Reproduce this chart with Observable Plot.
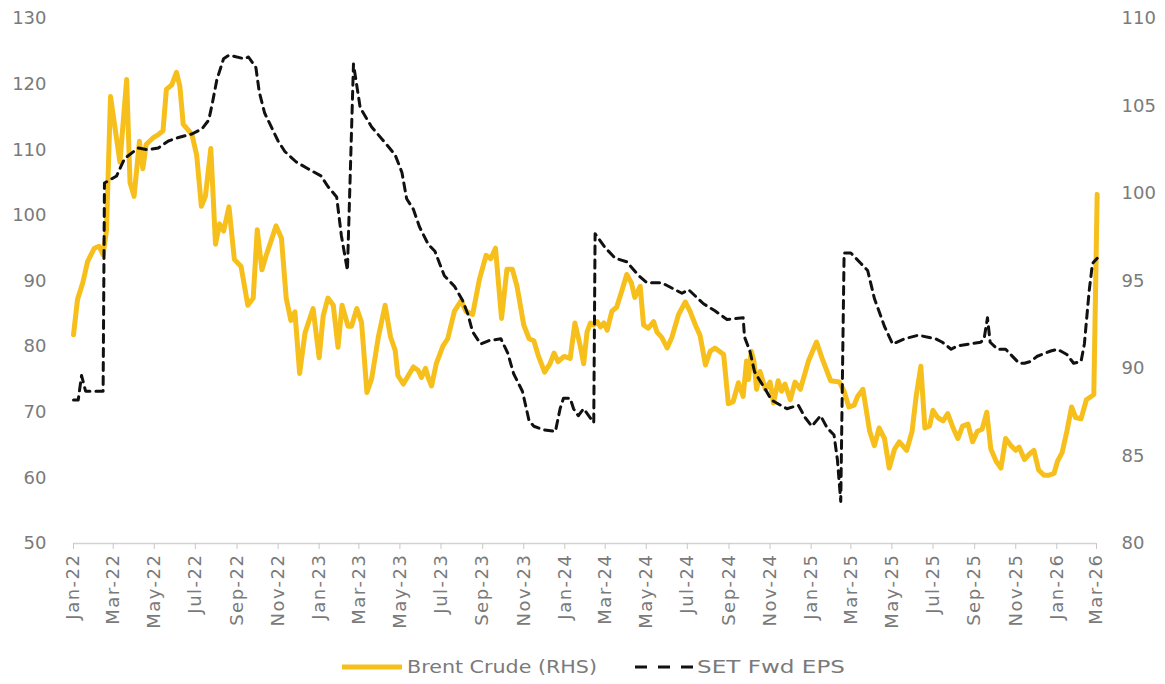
<!DOCTYPE html>
<html><head><meta charset="utf-8">
<script src="https://cdn.jsdelivr.net/npm/d3@7"></script>
<script src="https://cdn.jsdelivr.net/npm/@observablehq/plot@0.6"></script>
<style>
html,body{margin:0;padding:0;background:#fff;}
#chart{position:relative;width:1165px;height:684px;overflow:hidden;background:#fff;}
svg{display:block;}
</style></head><body><div id="chart"></div>
<script>
const brentDates = ["2022-01-01","2022-01-07","2022-01-15","2022-01-22","2022-02-01","2022-02-08","2022-02-14","2022-02-19","2022-02-25","2022-03-11","2022-03-21","2022-03-26","2022-04-01","2022-04-09","2022-04-14","2022-04-19","2022-04-29","2022-05-07","2022-05-14","2022-05-19","2022-05-27","2022-06-03","2022-06-08","2022-06-13","2022-06-26","2022-07-03","2022-07-10","2022-07-16","2022-07-24","2022-07-31","2022-08-06","2022-08-12","2022-08-20","2022-08-28","2022-09-07","2022-09-17","2022-09-25","2022-10-01","2022-10-08","2022-10-14","2022-10-29","2022-11-06","2022-11-13","2022-11-20","2022-11-26","2022-12-03","2022-12-11","2022-12-23","2023-01-01","2023-01-07","2023-01-14","2023-01-22","2023-01-29","2023-02-04","2023-02-13","2023-02-18","2023-02-26","2023-03-05","2023-03-13","2023-03-20","2023-03-30","2023-04-09","2023-04-17","2023-04-24","2023-04-28","2023-05-06","2023-05-21","2023-05-28","2023-06-02","2023-06-08","2023-06-12","2023-06-17","2023-06-24","2023-07-04","2023-07-11","2023-07-21","2023-07-31","2023-08-07","2023-08-17","2023-08-27","2023-09-06","2023-09-13","2023-09-20","2023-09-29","2023-10-07","2023-10-15","2023-10-22","2023-11-01","2023-11-09","2023-11-16","2023-11-23","2023-12-02","2023-12-10","2023-12-16","2023-12-22","2023-12-31","2024-01-09","2024-01-16","2024-01-24","2024-01-29","2024-02-03","2024-02-08","2024-02-13","2024-02-18","2024-02-23","2024-02-28","2024-03-04","2024-03-11","2024-03-18","2024-03-26","2024-04-02","2024-04-09","2024-04-14","2024-04-22","2024-04-27","2024-05-04","2024-05-12","2024-05-17","2024-05-24","2024-06-01","2024-06-08","2024-06-18","2024-06-28","2024-07-05","2024-07-13","2024-07-20","2024-07-28","2024-08-04","2024-08-11","2024-08-24","2024-08-31","2024-09-07","2024-09-15","2024-09-22","2024-09-27","2024-09-30","2024-10-04","2024-10-08","2024-10-12","2024-10-17","2024-10-25","2024-11-01","2024-11-06","2024-11-13","2024-11-18","2024-11-23","2024-12-01","2024-12-08","2024-12-16","2024-12-28","2025-01-09","2025-01-17","2025-01-30","2025-02-12","2025-02-19","2025-02-26","2025-03-06","2025-03-11","2025-03-19","2025-03-29","2025-04-05","2025-04-12","2025-04-20","2025-04-27","2025-05-05","2025-05-12","2025-05-23","2025-05-31","2025-06-06","2025-06-13","2025-06-19","2025-06-26","2025-07-01","2025-07-08","2025-07-16","2025-07-23","2025-07-31","2025-08-07","2025-08-14","2025-08-22","2025-08-29","2025-09-05","2025-09-12","2025-09-19","2025-09-25","2025-10-03","2025-10-10","2025-10-17","2025-10-25","2025-11-01","2025-11-06","2025-11-14","2025-11-21","2025-11-28","2025-12-05","2025-12-13","2025-12-20","2025-12-28","2026-01-02","2026-01-09","2026-01-16","2026-01-23","2026-01-29","2026-02-06","2026-02-14","2026-02-21","2026-02-25","2026-03-02"];
const brentValues = [81.8,87.2,89.8,93,95,95.3,94,97.7,118.1,108.1,120.7,105,102.9,111.3,107.1,110.8,111.8,112.3,112.9,119.2,119.9,121.8,119.7,113.9,112.3,109.2,101.4,102.9,110.2,95.6,98.7,97.6,101.3,93.3,92.2,86.3,87.4,97.8,91.7,93.8,98.4,96.5,87.4,84,85.3,75.9,82.1,85.8,78.3,84.7,87.4,86.3,79.9,86.3,83.1,83.1,85.8,83.7,73,75.1,81.5,86.3,81.5,79.4,75.6,74.3,76.9,76.4,75.3,76.7,75.3,74,77.4,80.1,81.2,85.4,87,85.4,84.9,90.2,93.9,93.4,95,84.3,91.8,91.8,89.2,83.3,81.2,80.9,78.5,76.1,77.4,79,77.7,78.5,78.2,83.6,80.1,77.4,82.2,83.6,83.3,83.8,83,83.6,82.5,85.4,86,88.6,91,89.7,87.5,89.2,83.3,82.8,83.8,82.2,81.4,79.8,81.4,84.9,86.8,85.4,83.3,81.7,77.2,79.3,79.8,78.8,71.3,71.6,74.5,72.4,77.8,75,79.3,77.8,73.5,76.2,73.5,74.6,71.4,74.8,73.2,74.3,71.9,74.6,73.5,77.8,80.7,78.3,74.8,74.6,73.2,70.8,71.1,72.4,73.5,67.1,64.9,67.6,66,61.5,64.4,65.5,64.2,67.1,72.4,77,67.6,67.9,70.3,69.2,68.7,69.8,67.6,66,67.9,68.2,65.5,67.1,67.4,70,64.4,62.5,61.5,66,64.9,64.2,64.7,62.8,63.6,64.2,61.2,60.4,60.4,60.7,62.5,63.9,67.1,70.8,69.2,69,71.9,72.4,72.7,103.2];
const epsDates = ["2022-01-01","2022-01-08","2022-01-13","2022-01-19","2022-02-14","2022-02-16","2022-03-06","2022-03-18","2022-04-07","2022-04-22","2022-05-07","2022-05-22","2022-06-06","2022-06-26","2022-07-11","2022-07-21","2022-07-26","2022-08-02","2022-08-12","2022-08-20","2022-09-12","2022-09-18","2022-09-29","2022-10-04","2022-10-12","2022-11-01","2022-11-11","2022-11-28","2022-12-16","2023-01-04","2023-01-14","2023-01-27","2023-02-03","2023-02-12","2023-02-21","2023-03-03","2023-03-20","2023-04-09","2023-04-24","2023-05-04","2023-05-11","2023-05-21","2023-05-30","2023-06-12","2023-06-22","2023-07-06","2023-07-21","2023-08-02","2023-08-10","2023-08-17","2023-08-29","2023-09-11","2023-09-28","2023-10-08","2023-10-17","2023-10-30","2023-11-09","2023-11-16","2023-11-30","2023-12-18","2023-12-25","2023-12-30","2024-01-09","2024-01-14","2024-01-21","2024-01-29","2024-02-13","2024-02-15","2024-03-01","2024-03-16","2024-04-02","2024-04-20","2024-05-02","2024-05-24","2024-06-13","2024-06-23","2024-07-03","2024-07-25","2024-08-11","2024-08-29","2024-09-22","2024-09-24","2024-10-02","2024-10-09","2024-10-25","2024-11-03","2024-11-26","2024-12-13","2024-12-23","2025-01-02","2025-01-15","2025-01-25","2025-02-04","2025-02-09","2025-02-14","2025-02-19","2025-03-01","2025-03-16","2025-03-26","2025-04-05","2025-04-20","2025-05-02","2025-05-20","2025-06-09","2025-07-05","2025-07-15","2025-07-28","2025-08-07","2025-08-24","2025-09-10","2025-09-15","2025-09-20","2025-09-24","2025-10-05","2025-10-17","2025-11-06","2025-11-14","2025-11-23","2025-12-03","2025-12-23","2026-01-02","2026-01-16","2026-01-26","2026-02-06","2026-02-11","2026-02-18","2026-02-23","2026-03-02"];
const epsValues = [88.2,88.2,89.6,88.7,88.7,100.6,101,102,102.6,102.5,102.6,103,103.2,103.4,103.7,104.2,105.1,106.5,107.7,107.9,107.7,107.8,107.2,105.8,104.6,103,102.4,101.8,101.4,101,100.4,99.8,97.6,95.6,107.4,104.9,103.8,102.9,102.2,101.2,99.7,99.1,98.1,97.1,96.7,95.3,94.7,93.9,93.1,92.1,91.4,91.6,91.7,90.9,89.7,88.7,87,86.7,86.5,86.4,87.7,88.3,88.3,87.7,87.3,87.7,86.9,97.7,96.9,96.3,96.1,95.3,94.9,94.9,94.5,94.3,94.5,93.7,93.3,92.8,92.9,91.8,91,89.8,88.8,88.2,87.7,87.9,87.2,86.7,87.3,86.6,86.2,84.8,82.4,96.6,96.6,96,95.6,94,92.4,91.4,91.7,91.9,91.7,91.5,91.1,91.3,91.4,91.5,91.7,92.9,91.5,91.1,91.1,90.3,90.3,90.4,90.7,91,91.1,90.8,90.3,90.4,91.4,94.4,96,96.3];
const xTickDates = ["2022-01-01","2022-03-01","2022-05-01","2022-07-01","2022-09-01","2022-11-01","2023-01-01","2023-03-01","2023-05-01","2023-07-01","2023-09-01","2023-11-01","2024-01-01","2024-03-01","2024-05-01","2024-07-01","2024-09-01","2024-11-01","2025-01-01","2025-03-01","2025-05-01","2025-07-01","2025-09-01","2025-11-01","2026-01-01","2026-03-01"];
const leftTicks = [50,60,70,80,90,100,110,120,130];
const rightTicks = [80,85,90,95,100,105,110];
const legendLabels = ["Brent Crude (RHS)", "SET Fwd EPS"];

const leftDomain = [50, 130], rightDomain = [80, 110];
const toLeft = v => leftDomain[0] + (v - rightDomain[0]) * (leftDomain[1] - leftDomain[0]) / (rightDomain[1] - rightDomain[0]);
const fromLeft = v => rightDomain[0] + (v - leftDomain[0]) * (rightDomain[1] - rightDomain[0]) / (leftDomain[1] - leftDomain[0]);

const parse = d3.utcParse("%Y-%m-%d");
const brent = brentDates.map((d, i) => ({date: parse(d), value: brentValues[i]}));
const eps = epsDates.map((d, i) => ({date: parse(d), value: epsValues[i]}));
const xTicks = xTickDates.map(parse);

const W = 1165, H = 645;
const YELLOW = "#F6BF1C", GREY = "#7a7a7a";
const plot = Plot.plot({
  width: W, height: H,
  marginTop: 18, marginBottom: 102, marginLeft: 73, marginRight: 69,
  style: {fontFamily: "'DejaVu Sans', sans-serif", fontSize: "18px", color: GREY, background: "#fff", overflow: "visible"},
  x: {type: "utc", domain: [xTicks[0], xTicks[xTicks.length - 1]]},
  y: {domain: leftDomain},
  marks: [
    Plot.ruleY([leftDomain[0]], {stroke: "#d2d2d2", strokeWidth: 1.5}),
    Plot.axisX(xTicks, {anchor: "bottom", tickFormat: d3.utcFormat("%b-%y"), tickRotate: -90, tickSize: 6, tickPadding: 4, stroke: "#c8c8c8", fill: GREY, label: null}),
    Plot.axisY(leftTicks, {anchor: "left", tickSize: 0, tickPadding: 27, fill: GREY, label: null}),
    Plot.axisY(rightTicks.map(toLeft), {anchor: "right", tickSize: 0, tickPadding: 25, tickFormat: d => String(Math.round(fromLeft(d))), fill: GREY, label: null}),
    Plot.line(brent, {x: "date", y: "value", stroke: YELLOW, strokeWidth: 5, strokeLinejoin: "round", strokeLinecap: "round"}),
    Plot.line(eps, {x: "date", y: d => toLeft(d.value), stroke: "#111", strokeWidth: 3, strokeDasharray: "8,6"})
  ]
});
d3.select(plot).selectAll('g[aria-label="x-axis tick label"] text').style("letter-spacing", "1.5px");
document.getElementById("chart").appendChild(plot);

// legend below the plot
const leg = d3.create("svg").attr("width", W).attr("height", 39)
  .style("font-family", "'DejaVu Sans', sans-serif").style("font-size", "18px");
leg.append("line").attr("x1", 342).attr("x2", 402).attr("y1", 22).attr("y2", 22)
  .attr("stroke", YELLOW).attr("stroke-width", 5);
leg.append("text").attr("x", 407).attr("y", 22).attr("dy", "0.35em").attr("fill", GREY)
  .attr("textLength", 190).attr("lengthAdjust", "spacingAndGlyphs").text(legendLabels[0]);
leg.append("line").attr("x1", 635).attr("x2", 694).attr("y1", 22).attr("y2", 22)
  .attr("stroke", "#111").attr("stroke-width", 3).attr("stroke-dasharray", "12,11");
leg.append("text").attr("x", 697).attr("y", 22).attr("dy", "0.35em").attr("fill", GREY)
  .attr("textLength", 148).attr("lengthAdjust", "spacingAndGlyphs").text(legendLabels[1]);
document.getElementById("chart").appendChild(leg.node());
</script></body></html>
